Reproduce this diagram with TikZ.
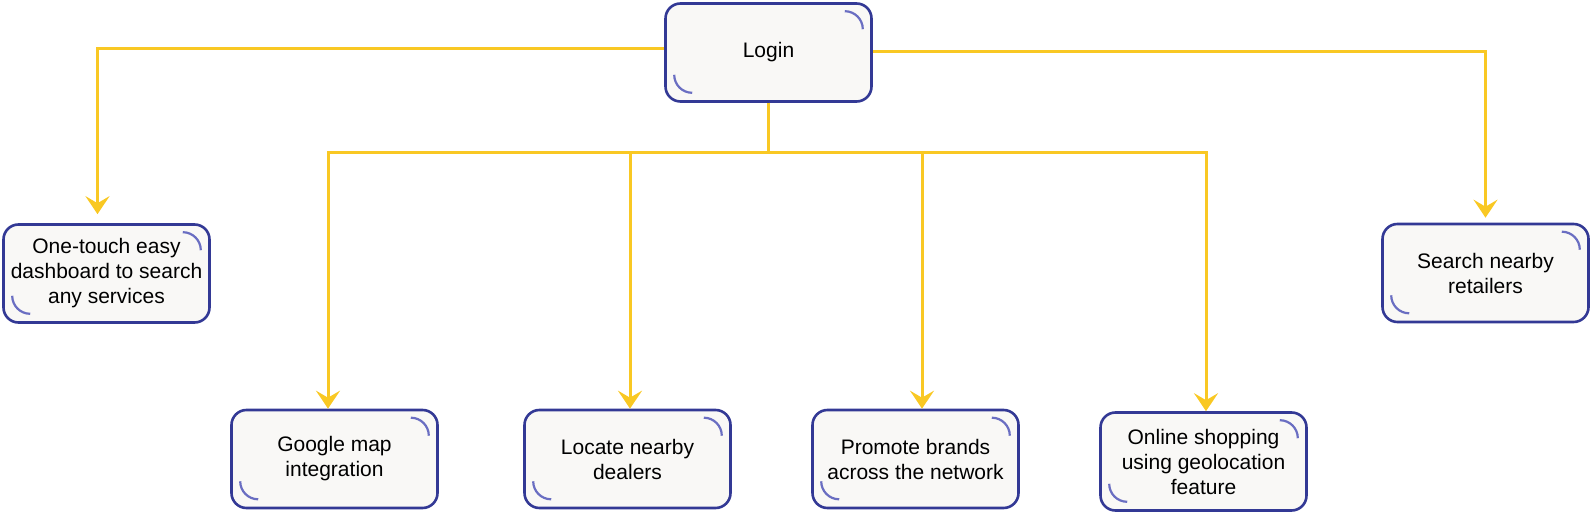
\documentclass[tikz,border=0pt]{standalone}
\usepackage{fontspec}
\setmainfont{Liberation Sans}
\usetikzlibrary{arrows.meta}
\definecolor{linkyellow}{HTML}{F9C823}
\definecolor{boxblue}{HTML}{333995}
\definecolor{arcblue}{HTML}{6A6EC2}
\definecolor{boxfill}{HTML}{F9F8F6}
\begin{document}
\begin{tikzpicture}[x=1pt,y=1pt,>={Stealth[length=18pt,width=24pt,inset=7pt]},
    card/.style={draw=boxblue, line width=2.6pt, fill=boxfill, rounded corners=15pt,
        minimum width=206pt, minimum height=98pt, align=center,
        font=\fontsize{21}{25}\selectfont},
    link/.style={draw=linkyellow, line width=3pt, ->},
    swirl/.style={draw=arcblue, line width=2.2pt}]
        \useasboundingbox (0,0) rectangle (1592,514);

        \node (login) [card] at (768.5,461.5) {Login};
        \node (dashboard) [card] at (106.5,240.5) {One-touch easy\\dashboard to search\\any services};
        \node (retailers) [card] at (1485.5,241) {Search nearby\\retailers};
        \node (maps) [card] at (334.5,55) {Google map\\integration};
        \node (dealers) [card] at (627.5,55) {Locate nearby\\dealers};
        \node (brands) [card] at (915.5,55) {Promote brands\\across the network};
        \node (shopping) [card] at (1203.5,52.5) {Online shopping\\using geolocation\\feature};

        % little arcs in the corners
        \foreach \n in {login,dashboard,retailers,maps,dealers,brands,shopping} {
            \draw[swirl] ([xshift=-28pt,yshift=-9pt]\n.north east) arc (90:0:18pt);
            \draw[swirl] ([xshift=10pt,yshift=28pt]\n.south west) arc (180:270:18pt);
        }

        \draw[link, shorten >=9pt] ([yshift=4pt]login.west) -| ([xshift=-9pt]dashboard.north);
        \draw[link, shorten >=5pt] ([yshift=1pt]login.east) -| (retailers.north);
        \draw[link] (login.south) -- ++(0,-50) -| ([xshift=-6.5pt]maps.north);
        \draw[link] (login.south) -- ++(0,-50) -| ([xshift=2.5pt]dealers.north);
        \draw[link] (login.south) -- ++(0,-50) -| ([xshift=6.5pt]brands.north);
        \draw[link] (login.south) -- ++(0,-50) -| ([xshift=2.5pt]shopping.north);
    \end{tikzpicture}
\end{document}
